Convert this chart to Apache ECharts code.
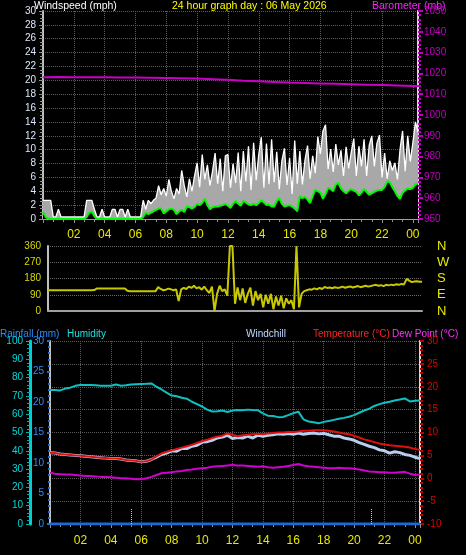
<!DOCTYPE html>
<html><head><meta charset="utf-8">
<script src="https://cdn.jsdelivr.net/npm/echarts/dist/echarts.min.js"></script>
<style>html,body{margin:0;padding:0;background:#000;}#c{width:466px;height:555px;}</style>
</head><body><div id="c"></div>
<script>
// ---- data (10-minute samples, 00:00 .. 00:20) ----
const windGust = [
 2.7,2.7,2.7,2.7,0.3,0.3,
 1.4,0.3,0.3,0.3,0.3,0.3,
 0.3,0.3,0.3,0.3,0.3,2.7,
 2.7,2.7,1.4,0.3,0.3,1.4,
 0.3,0.3,0.3,1.4,1.4,0.3,
 1.4,1.4,0.3,1.4,0.3,0.3,
 0.3,0.3,0.3,2.7,1.4,2.7,
 2.2,2.7,3.0,4.8,3.5,4.4,
 3.3,5.7,4.0,2.9,4.4,3.6,
 7.0,4.8,3.2,5.8,4.0,6.2,
 8.1,4.6,9.3,5.7,7.8,4.8,
 6.9,9.5,5.1,8.7,4.0,9.1,
 9.3,4.5,8.0,5.2,9.6,4.0,
 9.8,5.4,10.5,4.2,11.0,5.6,
 9.3,11.8,4.5,10.9,5.0,11.5,
 5.3,9.7,4.3,8.4,10.2,4.9,
 8.8,3.6,11.3,5.1,9.8,5.0,
 8.5,10.6,5.8,9.1,6.6,11.9,
 9.4,12.7,13.6,7.2,10.1,6.8,
 10.8,7.8,9.9,6.2,10.4,7.3,
 9.6,11.6,6.2,10.5,7.6,11.5,
 6.2,10.6,12.0,7.6,10.9,12.1,
 6.0,9.5,5.8,8.4,7.0,8.1,
 5.7,10.0,12.7,6.9,12.0,8.3,
 11.0,14.0,12.5];
const windAvg = [
 1.0,0.3,0,0,0,0,
 0,0,0,0,0,0,
 0,0,0,0,0,0.3,
 0.9,1.1,0.4,0,0,0,
 0,0,0,0,0,0,
 0,0,0,0,0,0,
 0,0,0,0.3,0.9,0.7,
 0.9,1.1,1.3,1.5,1.5,0.8,
 1.1,1.4,1.5,1.3,0.7,1.1,
 1.3,1.0,1.8,1.7,1.5,1.7,
 2.2,2.0,2.3,2.9,2.0,1.4,
 1.7,1.8,1.8,1.9,2.0,2.2,
 1.9,1.6,2.2,2.6,2.2,1.9,
 2.6,2.4,2.1,2.0,2.2,2.0,
 2.3,2.7,2.4,2.0,2.1,1.8,
 1.8,2.6,3.0,2.2,1.8,1.9,
 2.0,1.8,1.5,1.1,3.3,3.0,
 3.2,2.8,2.3,3.3,4.2,4.0,
 3.8,2.9,3.6,4.5,4.3,4.0,
 5.0,5.2,4.4,4.0,3.7,4.1,
 4.3,4.1,3.9,3.4,3.8,4.3,
 3.9,3.5,3.7,3.9,4.1,4.2,
 4.2,4.6,5.4,5.3,4.6,4.0,
 3.3,2.9,3.8,4.1,4.4,4.3,
 4.5,5.0,5.1];
const windDir = [
 115,115,115,115,115,115,
 115,115,115,115,115,115,
 115,115,115,115,115,115,
 116,124,125,125,125,125,
 125,125,125,125,125,125,
 125,112,110,110,110,110,
 110,110,110,110,110,110,
 110,132,122,115,118,124,
 120,115,120,55,120,128,
 122,135,128,140,125,132,
 118,135,115,100,135,0,
 95,140,110,120,85,360,
 360,40,130,60,125,45,
 95,130,30,110,60,95,
 20,90,40,95,10,80,
 30,85,15,70,40,60,
 10,360,20,95,110,115,
 120,118,125,120,128,122,
 133,128,130,126,132,128,
 130,135,129,133,136,130,
 134,138,132,136,140,135,
 138,142,145,140,143,138,
 145,142,146,143,148,145,
 150,147,178,168,160,163,
 165,162,162];
// hourly barometer
const baroHours = [0,1,2,3,4,5,6,7,8,9,10,11,12,13,14,15,16,17,18,19,20,21,22,23,24,24.333];
const baro = [1018.2,1018.3,1018.2,1018.1,1018.1,1018.0,1018.0,1017.9,1017.8,1017.7,1017.5,1017.2,1016.9,1016.5,1016.2,1015.9,1015.6,1015.4,1015.2,1015.0,1014.8,1014.6,1014.4,1014.2,1014.0,1013.9];
// 20-minute samples
const temperature = [5.6,5.5,5.3,5.2,5.1,5.0,4.9,4.8,4.7,4.6,4.5,4.4,4.3,4.3,4.2,4.0,3.9,3.8,3.6,3.7,4.1,
 4.8,5.4,5.8,6.1,6.4,6.7,7.0,7.3,7.7,8.1,8.4,8.8,9.1,9.3,9.8,9.5,9.2,9.4,9.5,9.6,9.7,9.6,9.8,9.9,
 10.0,10.0,10.1,10.1,10.2,10.4,10.4,10.5,10.5,10.5,10.4,10.2,10.0,9.8,9.6,9.3,8.9,8.5,8.2,7.9,7.6,
 7.4,7.2,7.1,7.0,6.9,6.7,6.4,6.2];
const windchill = [5.6,5.5,5.3,5.2,5.1,5.0,4.9,4.8,4.7,4.6,4.5,4.4,4.3,4.3,4.2,4.0,3.9,3.8,3.6,3.7,4.1,
 4.6,5.2,5.5,6.0,5.9,6.5,6.5,7.0,7.2,7.9,8.0,8.3,8.8,9.0,9.4,8.7,8.9,8.8,9.2,8.8,9.4,9.2,9.4,9.5,
 9.7,9.6,9.8,9.6,9.9,9.6,9.8,9.9,9.7,9.8,9.5,9.2,9.2,8.8,8.6,8.3,7.8,7.4,7.0,6.7,6.2,
 6.0,5.5,5.8,5.6,5.2,5.0,4.6,4.3];
const humidity = [73.2,73.2,73.0,74.0,74.5,75.5,76.0,76.0,76.0,75.8,75.5,75.5,75.6,76.2,75.6,75.8,76.2,76.4,76.5,76.6,76.8,
 75.0,73.5,71.8,70.2,69.8,69.0,68.5,66.8,65.5,64.2,62.5,61.5,61.6,62.0,61.2,62.0,62.3,62.2,62.5,62.3,62.2,60.5,59.2,59.0,
 58.4,58.5,59.5,60.5,61.4,57.2,56.0,55.6,55.0,55.8,56.3,56.9,57.5,58.0,58.6,59.5,60.8,62.0,63.0,64.5,65.5,
 66.3,66.8,67.5,68.0,68.6,67.0,67.3,67.5];
const dewPoint = [1.2,1.0,0.9,0.8,0.8,0.7,0.6,0.5,0.5,0.4,0.3,0.3,0.2,0.1,0.0,0.0,-0.1,-0.2,-0.2,0.0,0.3,
 0.7,1.1,1.2,1.3,1.5,1.6,1.8,1.9,2.1,2.2,2.3,2.5,2.6,2.7,2.8,2.9,2.8,2.8,2.7,2.6,2.5,2.6,2.4,2.3,
 2.4,2.5,2.7,2.9,3.1,2.8,2.6,2.5,2.4,2.3,2.2,2.2,2.3,2.2,2.2,2.1,1.9,1.7,1.5,1.4,1.3,
 1.3,1.2,1.2,1.3,1.4,1.0,0.7,0.8];
const rainHours = [0, 24.333];
const rainfall = [0, 0];
const sunEvents = [5.35, 21.1];   // hours
const sunMarkHeight = 3.3;        // degC above axis floor
const dirLabels = {0:'N', 90:'E', 180:'S', 270:'W', 360:'N'};

// ---- chart ----
const FF = '"Liberation Sans", Arial, sans-serif';
const xMax = 146/6;
const t10 = windGust.map((_, i) => i/6);
const t20 = temperature.map((_, i) => i/3);
const pairs = (ts, vs) => vs.map((v, i) => [ts[i], v]);

function hourLabel(v){
  const r = Math.round(v);
  if (v <= 0 || Math.abs(v - r) > 1e-6 || r % 2) return '';
  return String(r % 24).padStart(2, '0');
}
const plain = v => String(v);
const dotted = {show:true, lineStyle:{color:'#5c5c5c', type:'dotted', width:1}};
function xAx(grid, labels, split, margin){
  return {type:'value', gridIndex:grid, min:0, max:xMax, interval:2,
    axisLine:{show:true, onZero:false, lineStyle:{color:'#a0a0a0', width:2}},
    axisTick:{show:labels, length:4, lineStyle:{color:'#909090'}},
    minorTick:{show:labels, splitNumber:3, length:3, lineStyle:{color:'#909090'}},
    axisLabel:{show:labels, color:'#e8e800', fontSize:12, fontFamily:FF, margin:margin, formatter:hourLabel, showMaxLabel:false},
    splitLine: split ? dotted : {show:false}};
}
const TF = '10.5px ' + FF, LF = '10px ' + FF;

const option = {
  backgroundColor:'#000',
  animation:false,
  grid:[
    {left:43, top:11, width:375, height:208},
    {left:48, top:246, width:374, height:65},
    {left:50, top:341, width:370, height:183}
  ],
  xAxis:[ xAx(0, true, true, 10), xAx(1, false, false, 8), xAx(2, true, true, 11) ],
  yAxis:[
    {type:'value', gridIndex:0, min:0, max:30, interval:2, position:'left',
     axisLine:{show:true, onZero:false, lineStyle:{color:'#c0c0c0', width:2}},
     axisTick:{show:true, length:4, lineStyle:{color:'#909090'}},
     minorTick:{show:true, splitNumber:4, length:3, lineStyle:{color:'#909090'}},
     axisLabel:{color:'#dce8ff', fontSize:10, fontFamily:FF, margin:7, formatter:plain},
     splitLine:dotted},
    {type:'value', gridIndex:0, min:950, max:1050, interval:10, position:'right',
     axisLine:{show:true, onZero:false, lineStyle:{color:'#d8d8d8', width:2}},
     axisTick:{show:true, length:5, lineStyle:{color:'#c000c0', width:2}},
     minorTick:{show:true, splitNumber:5, length:3, lineStyle:{color:'#c000c0', width:2}},
     axisLabel:{color:'#c000c0', fontSize:10, fontFamily:FF, margin:6, formatter:plain},
     splitLine:{show:false}},
    {type:'value', gridIndex:1, min:0, max:360, interval:90, position:'left',
     axisLine:{show:true, onZero:false, lineStyle:{color:'#c0c0c0', width:2}},
     axisTick:{show:false},
     axisLabel:{color:'#d8d800', fontSize:10, fontFamily:FF, margin:7, formatter:plain},
     splitLine:{show:true, lineStyle:{color:'#6a6a6a', type:'dotted'}}},
    {type:'value', gridIndex:1, min:0, max:360, interval:90, position:'right',
     axisLine:{show:false}, axisTick:{show:false}, splitLine:{show:false},
     axisLabel:{color:'#e8e800', fontSize:13, fontFamily:FF, margin:15, formatter:v => dirLabels[v] || ''}},
    {type:'value', gridIndex:2, min:-10, max:30, interval:5, position:'right',
     axisLine:{show:true, onZero:false, lineStyle:{color:'#d8d8d8', width:2}},
     axisTick:{show:true, length:4, lineStyle:{color:'#c00000', width:2}},
     minorTick:{show:true, splitNumber:5, length:3, lineStyle:{color:'#c00000', width:2}},
     axisLabel:{color:'#e00000', fontSize:10, fontFamily:FF, margin:7, formatter:plain},
     splitLine:dotted},
    {type:'value', gridIndex:2, min:0, max:30, interval:5, position:'left',
     axisLine:{show:true, onZero:false, lineStyle:{color:'#c0c0c0', width:2}},
     axisTick:{show:true, length:3, lineStyle:{color:'#1f6fd0', width:2}},
     minorTick:{show:true, splitNumber:5, length:2, lineStyle:{color:'#1f6fd0', width:2}},
     axisLabel:{color:'#2a8cff', fontSize:10, fontFamily:FF, margin:6, formatter:plain},
     splitLine:{show:false}},
    {type:'value', gridIndex:2, min:0, max:100, interval:10, position:'left', offset:20,
     axisLine:{show:true, onZero:false, lineStyle:{color:'#00d0d0', width:3}},
     axisTick:{show:true, length:4, lineStyle:{color:'#00b0b0'}},
     minorTick:{show:true, splitNumber:5, length:3, lineStyle:{color:'#00b0b0'}},
     axisLabel:{color:'#00d8d8', fontSize:10, fontFamily:FF, margin:7, formatter:plain},
     splitLine:{show:false}}
  ],
  series:[
    {type:'line', xAxisIndex:0, yAxisIndex:0, symbol:'none',
     data:pairs(t10, windGust),
     lineStyle:{color:'#ffffff', width:1.3}, areaStyle:{color:'#a8a8a8', opacity:1}},
    {type:'line', xAxisIndex:0, yAxisIndex:0, symbol:'none',
     data:pairs(t10, windAvg), lineStyle:{color:'#00f800', width:2},
     areaStyle:{color:'#000000', opacity:1}},
    {type:'line', xAxisIndex:0, yAxisIndex:1, symbol:'none',
     data:pairs(baroHours, baro), lineStyle:{color:'#c800c8', width:2}},
    {type:'line', xAxisIndex:1, yAxisIndex:2, symbol:'none',
     data:pairs(t10, windDir), lineStyle:{color:'#c8c800', width:2}},
    {type:'line', xAxisIndex:2, yAxisIndex:5, symbol:'none',
     data:pairs(rainHours, rainfall), lineStyle:{color:'#1a6ad8', width:3}},
    {type:'line', xAxisIndex:2, yAxisIndex:6, symbol:'none',
     data:pairs(t20, humidity), lineStyle:{color:'#10c0c0', width:2}},
    {type:'line', xAxisIndex:2, yAxisIndex:4, symbol:'none',
     data:pairs(t20, dewPoint), lineStyle:{color:'#d000d0', width:2}},
    {type:'line', xAxisIndex:2, yAxisIndex:4, symbol:'none',
     data:pairs(t20, windchill), lineStyle:{color:'#b8cff0', width:3}},
    {type:'line', xAxisIndex:2, yAxisIndex:4, symbol:'none',
     data:pairs(t20, temperature), lineStyle:{color:'#e01010', width:2},
     markLine:{symbol:'none', silent:true, label:{show:false},
       lineStyle:{color:'#e0e000', type:'dotted', width:1},
       data: sunEvents.map(h => [{coord:[h, -10]}, {coord:[h, -10 + sunMarkHeight]}])}}
  ],
  graphic:[
    {type:'text', left:34, top:1, style:{text:'Windspeed (mph)', fill:'#ffffff', font:TF}},
    {type:'text', left:172, top:1, style:{text:'24 hour graph day : 06 May 2026', fill:'#ffff00', font:TF}},
    {type:'text', left:372, top:1, style:{text:'Barometer (mb)', fill:'#ff20ff', font:TF}},
    {type:'text', left:0, top:329, style:{text:'Rainfall (mm)', fill:'#2a8cff', font:LF}},
    {type:'text', left:67, top:329, style:{text:'Humidity', fill:'#20e0e0', font:LF}},
    {type:'text', left:246, top:329, style:{text:'Windchill', fill:'#c0d8ff', font:LF}},
    {type:'text', left:313, top:329, style:{text:'Temperature (\u00B0C)', fill:'#ff2020', font:LF}},
    {type:'text', left:392, top:329, style:{text:'Dew Point (\u00B0C)', fill:'#ff30ff', font:LF}}
  ]
};
const chart = echarts.init(document.getElementById('c'), null, {renderer:'canvas'});
chart.setOption(option);
</script>
</body></html>
